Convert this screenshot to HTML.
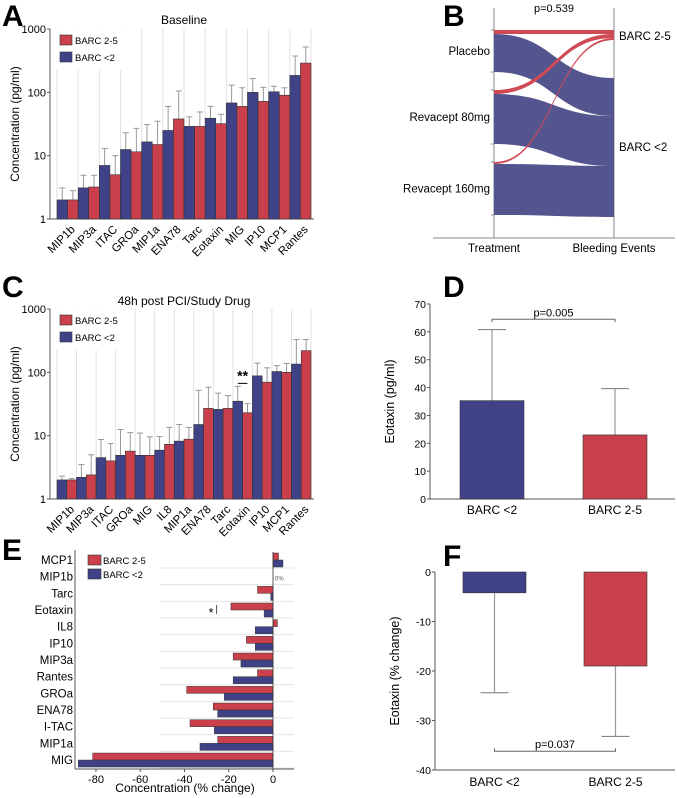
<!DOCTYPE html>
<html><head><meta charset="utf-8"><style>
body{margin:0;background:#fff}
svg{display:block;font-family:"Liberation Sans",sans-serif}
</style></head><body>
<svg id="fig" width="677" height="798" viewBox="0 0 677 798"></svg>
<script>
// ---------- DATA ----------
const catsA=["MIP1b","MIP3a","ITAC","GROa","MIP1a","ENA78","Tarc","Eotaxin","MIG","IP10","MCP1","Rantes"];
const blueA=[2.0,3.1,7,12.5,16.5,25,29,39,68,100,102,185];
const redA=[2.0,3.2,5,11.5,15,38,29,32,60,72,90,290];
const blueAerr=[3.1,4.9,13,23,31,60,41,60,130,165,125,375];
const redAerr=[2.8,4.9,10,27,35,105,49,45,118,120,118,520];
const catsC=["MIP1b","MIP3a","ITAC","GROa","MIG","IL8","MIP1a","ENA78","Tarc","Eotaxin","IP10","MCP1","Rantes"];
const blueC=[2.0,2.2,4.5,4.9,4.9,5.9,8.2,15,26,35,88,103,135];
const redC=[2.0,2.4,4.0,5.7,4.9,7.3,8.8,27,27,23,70,100,220];
const blueCerr=[2.3,3.5,8.7,12.5,11,9.7,15,52,47,60,140,128,330];
const redCerr=[2.1,5,7.5,11.2,9.6,13.5,13.5,58,43,32,118,138,330];
const logTicks=["1","10","100","1000"];
const catsE=["MCP1","MIP1b","Tarc","Eotaxin","IL8","IP10","MIP3a","Rantes","GROa","ENA78","I-TAC","MIP1a","MIG"];
const redE=[2.5,0,-7,-19,2,-12,-18,-7,-39,-27,-37.5,-25,-81.5];
const blueE=[4.5,0,-1,-4,-8,-8,-14.5,-18,-22,-25,-26.5,-33,-88];
const ticksE=[-80,-60,-40,-20,0];
const groupsB=["Placebo","Revacept 80mg","Revacept 160mg"];
const bleedRedB=[4,4,2];
const bleedBlueB=[38,50,51];
const catsD=["BARC <2","BARC 2-5"];
const valsD=[35.3,23];
const errD=[60.8,39.6];
const ticksD=[0,10,20,30,40,50,60,70];
const valsF=[-4.2,-19];
const errF=[-24.4,-33.2];
const ticksF=[0,-10,-20,-30,-40];

const BLUE="#3f4287",RED="#c9404c",SB="#54558f",SR="#d04a55";
const svg=document.getElementById('fig');
const NS="http://www.w3.org/2000/svg";
function mk(tag,attrs,parent,text){const e=document.createElementNS(NS,tag);for(const k in attrs)e.setAttribute(k,attrs[k]);if(text!==undefined)e.textContent=text;(parent||svg).appendChild(e);return e;}
function grp(name){const g=mk('g',{});return g;}

// panel letters
[["A",2,26],["B",443,26],["C",2,297],["D",443,297],["E",2,560],["F",443,566]].forEach(p=>{
 const t=mk('text',{x:p[1],y:p[2],'font-size':30,'font-weight':'bold'},svg,p[0]);
 
 
});

// ---------- log bar charts A & C ----------
function logChart(name,cats,blue,red,berr,rerr,y0,title,titleY){
 const g=grp(name);
 const x0=57,x1=311,ax=50,top=y0-190;
 const y=v=>y0-Math.log10(v)*63.33;
 const w=(x1-x0)/cats.length;
 const t=mk('text',{x:184,y:titleY,'font-size':12,'text-anchor':'middle'},g,title);
 
 for(let i=0;i<=cats.length;i++){const l=mk('line',{x1:x0+i*w,x2:x0+i*w,y1:top,y2:y0,stroke:'#e2e2e2','stroke-width':1},g);
  }
 mk('line',{x1:ax,x2:ax,y1:top,y2:y0,stroke:'#555'},g);
 mk('line',{x1:ax,x2:x1+3,y1:y0,y2:y0,stroke:'#555'},g);
 logTicks.forEach(s=>{const v=+s;mk('line',{x1:ax-3,x2:ax,y1:y(v),y2:y(v),stroke:'#555'},g);
  const tt=mk('text',{x:ax-4,y:y(v)+4,'font-size':11,'text-anchor':'end'},g,s);
  });
 const yl=mk('text',{transform:`translate(19,${(top+y0)/2}) rotate(-90)`,'font-size':12,'text-anchor':'middle'},g,'Concentration (pg/ml)');
 
 cats.forEach((c,i)=>{
  const bx=x0+i*w,bw=w/2;
  [[blue[i],berr[i],BLUE,bx,'blue'],[red[i],rerr[i],RED,bx+bw,'red']].forEach(b=>{
   const cx=b[3]+bw/2;
   mk('line',{x1:cx,x2:cx,y1:y(b[0]),y2:y(b[1]),stroke:'#999'},g);
   mk('line',{x1:cx-3,x2:cx+3,y1:y(b[1]),y2:y(b[1]),stroke:'#999'},g);
   const r=mk('rect',{x:b[3],y:y(b[0]),width:bw,height:y0-y(b[0]),fill:b[2],stroke:'#333','stroke-width':0.6},g);
   
  });
  const lx=bx+w/2+3;
  const lt=mk('text',{transform:`translate(${lx},${y0+6}) rotate(-45)`,'font-size':11.5,'text-anchor':'end','dominant-baseline':'hanging'},g,c);
  
 });
 const lg=grp('legend');g.appendChild(lg);
 mk('rect',{x:52,y:top+1,width:70,height:40,fill:'#fff'},lg);
 [[RED,'BARC 2-5',6],[BLUE,'BARC <2',23]].forEach(e=>{
  const r=mk('rect',{x:60,y:top+e[2],width:12,height:10,fill:e[0],stroke:'#333','stroke-width':0.6},lg);
  
  mk('text',{x:75,y:top+e[2]+9,'font-size':9.5},lg,e[1]);
 });
 return {g,y,x0,w};
}
logChart('chart-a-baseline',catsA,blueA,redA,blueAerr,redAerr,219,'Baseline',24);
const C=logChart('chart-c-48h',catsC,blueC,redC,blueCerr,redCerr,499,'48h post PCI/Study Drug',305);
const ei=catsC.indexOf('Eotaxin');
const st=mk('text',{x:C.x0+ei*C.w+C.w/2,y:C.y(Math.max(blueCerr[ei],redCerr[ei]))-6,'font-size':14,'font-weight':'bold','text-anchor':'middle'},C.g,'**');

mk('line',{x1:C.x0+ei*C.w+5,x2:C.x0+ei*C.w+C.w-5,y1:C.y(Math.max(blueCerr[ei],redCerr[ei]))-3,y2:C.y(Math.max(blueCerr[ei],redCerr[ei]))-3,stroke:'#000'},C.g);

// ---------- E horizontal bars ----------
(function(){
 const g=grp('chart-e-percent-change');
 const x=v=>273+v*2.2125, y0=769, ax=75;
 const yc=i=>560+i*16.67;
 catsE.forEach((c,i)=>{
  const gl=mk('line',{x1:160,x2:294,y1:yc(i)+8,y2:yc(i)+8,stroke:'#e4e4e4'},g);
  
 });
 mk('line',{x1:ax,x2:ax,y1:550,y2:y0,stroke:'#555'},g);
 mk('line',{x1:ax,x2:294,y1:y0,y2:y0,stroke:'#555'},g);
 ticksE.forEach(v=>{mk('line',{x1:x(v),x2:x(v),y1:y0,y2:y0+3,stroke:'#555'},g);
  const t=mk('text',{x:x(v),y:y0+14,'font-size':11,'text-anchor':'middle'},g,String(v));
  });
 catsE.forEach((c,i)=>{
  [[redE[i],RED,-7,'red'],[blueE[i],BLUE,0,'blue']].forEach(b=>{
   const r=mk('rect',{x:Math.min(x(0),x(b[0])),y:yc(i)+b[2],width:Math.abs(x(b[0])-x(0)),height:7,fill:b[1],stroke:'#333','stroke-width':0.5},g);
   
  });
  const t=mk('text',{x:73,y:yc(i)+4,'font-size':11.5,'text-anchor':'end'},g,c);
  
 });
 mk('line',{x1:x(0),x2:x(0),y1:552,y2:y0,stroke:'#333','stroke-width':0.8},g);
 mk('text',{x:x(0)+2,y:yc(1)+4,'font-size':6,fill:'#555'},g,'0%');
 const xt=mk('text',{x:185,y:792,'font-size':12,'text-anchor':'middle'},g,'Concentration (% change)');
 
 const e=catsE.indexOf('Eotaxin');
 mk('text',{x:x(-28),y:yc(e)+7,'font-size':13,'text-anchor':'middle'},g,'*');
 mk('line',{x1:x(-25.5),x2:x(-25.5),y1:yc(e)-5,y2:yc(e)+4,stroke:'#555'},g);
 const lg=grp('legend');g.appendChild(lg);
 [[RED,'BARC 2-5',555],[BLUE,'BARC <2',569]].forEach(l=>{
  mk('rect',{x:88,y:l[2],width:13,height:10,fill:l[0],stroke:'#333','stroke-width':0.6},lg);
  mk('text',{x:103,y:l[2]+9,'font-size':9.5},lg,l[1]);
 });
})();

// ---------- B sankey ----------
(function(){
 const g=grp('chart-b-sankey');
 const L=494,R=614,gap=18;
 mk('line',{x1:L,x2:L,y1:8,y2:238,stroke:'#888'},g);
 mk('line',{x1:R,x2:R,y1:8,y2:238,stroke:'#888'},g);
 mk('line',{x1:433,x2:675,y1:238,y2:238,stroke:'#888'},g);
 const p=mk('text',{x:554,y:12,'font-size':11,'text-anchor':'middle'},g,'p=0.539');
 
 const totRed=bleedRedB.reduce((a,b)=>a+b,0);
 let ly=30, rRed=30, rBlue=30+totRed+38;
 const flow=(y1a,y1b,y2a,y2b,col)=>{const m=(L+R)/2;
  return mk('path',{d:`M${L},${y1a} C${m},${y1a} ${m},${y2a} ${R},${y2a} L${R},${y2b} C${m},${y2b} ${m},${y1b} ${L},${y1b} Z`,fill:col},g);};
 groupsB.forEach((n,i)=>{
  const rd=bleedRedB[i],bl=bleedBlueB[i];
  const fr=flow(ly,ly+rd,rRed,rRed+rd,SR);
  
  const fb=flow(ly+rd,ly+rd+bl,rBlue,rBlue+bl,SB);
  
  mk('line',{x1:L-3,x2:L,y1:ly,y2:ly,stroke:'#888'},g);
  mk('line',{x1:L-3,x2:L,y1:ly+rd+bl,y2:ly+rd+bl,stroke:'#888'},g);
  const t=mk('text',{x:L-4,y:ly+(rd+bl)/2+4,'font-size':11.5,'text-anchor':'end'},g,n);
  
  ly+=rd+bl+gap; rRed+=rd; rBlue+=bl;
 });
 mk('text',{x:R+5,y:40,'font-size':11.5},g,'BARC 2-5');
 mk('text',{x:R+5,y:151,'font-size':11.5},g,'BARC <2');
 mk('text',{x:L,y:252,'font-size':11.5,'text-anchor':'middle'},g,'Treatment');
 mk('text',{x:R,y:252,'font-size':11.5,'text-anchor':'middle'},g,'Bleeding Events');
})();

// ---------- D & F simple bars ----------
function simple(name,vals,errs,ticks,ax,yz,scale,bx,bw,axEnd,title,bracketV,ptxt,labY){
 const g=grp(name);
 const y=v=>yz-v*scale;
 const ymin=Math.min(...ticks),ymax=Math.max(...ticks);
 mk('line',{x1:ax,x2:ax,y1:y(ymax),y2:y(ymin),stroke:'#555'},g);
 const baseY=ymin<0?y(ymin):y(0);
 mk('line',{x1:ax,x2:axEnd,y1:baseY,y2:baseY,stroke:'#555'},g);
 ticks.forEach(v=>{mk('line',{x1:ax-3,x2:ax,y1:y(v),y2:y(v),stroke:'#555'},g);
  const t=mk('text',{x:ax-4,y:y(v)+4,'font-size':10.5,'text-anchor':'end'},g,String(v));
  });
 vals.forEach((v,i)=>{
  const cx=bx[i]+bw/2;
  mk('line',{x1:cx,x2:cx,y1:y(v),y2:y(errs[i]),stroke:'#999','stroke-width':1.2},g);
  mk('line',{x1:cx-14,x2:cx+14,y1:y(errs[i]),y2:y(errs[i]),stroke:'#777'},g);
  const r=mk('rect',{x:bx[i],y:Math.min(y(v),y(0)),width:bw,height:Math.abs(y(v)-y(0)),fill:i?RED:BLUE,stroke:'#333','stroke-width':0.6},g);
  
  const t=mk('text',{x:cx,y:labY,'font-size':12,'text-anchor':'middle'},g,catsD[i]);
  
 });
 const c0=bx[0]+bw/2,c1=bx[1]+bw/2,by=y(bracketV);
 const tk=bracketV>0?3:-3;
 mk('path',{d:`M${c0},${by+tk} L${c0},${by} L${c1},${by} L${c1},${by+tk}`,fill:'none',stroke:'#666'},g);
 const pt=mk('text',{x:(c0+c1)/2,y:by-3,'font-size':11,'text-anchor':'middle'},g,ptxt);
 
 const yt=mk('text',{transform:`translate(${ax-36},${(y(ymax)+baseY)/2}) rotate(-90)`,'font-size':12.5,'text-anchor':'middle'},g,title);
 
}
simple('chart-d-eotaxin',valsD,errD,ticksD,430,499,2.786,[460,583],64,675,'Eotaxin (pg/ml)',64.5,'p=0.005',514);
simple('chart-f-eotaxin-change',valsF,errF,ticksF,435,572,4.95,[463,584],63,675,'Eotaxin (% change)',-36.2,'p=0.037',786);
</script>
</body></html>
